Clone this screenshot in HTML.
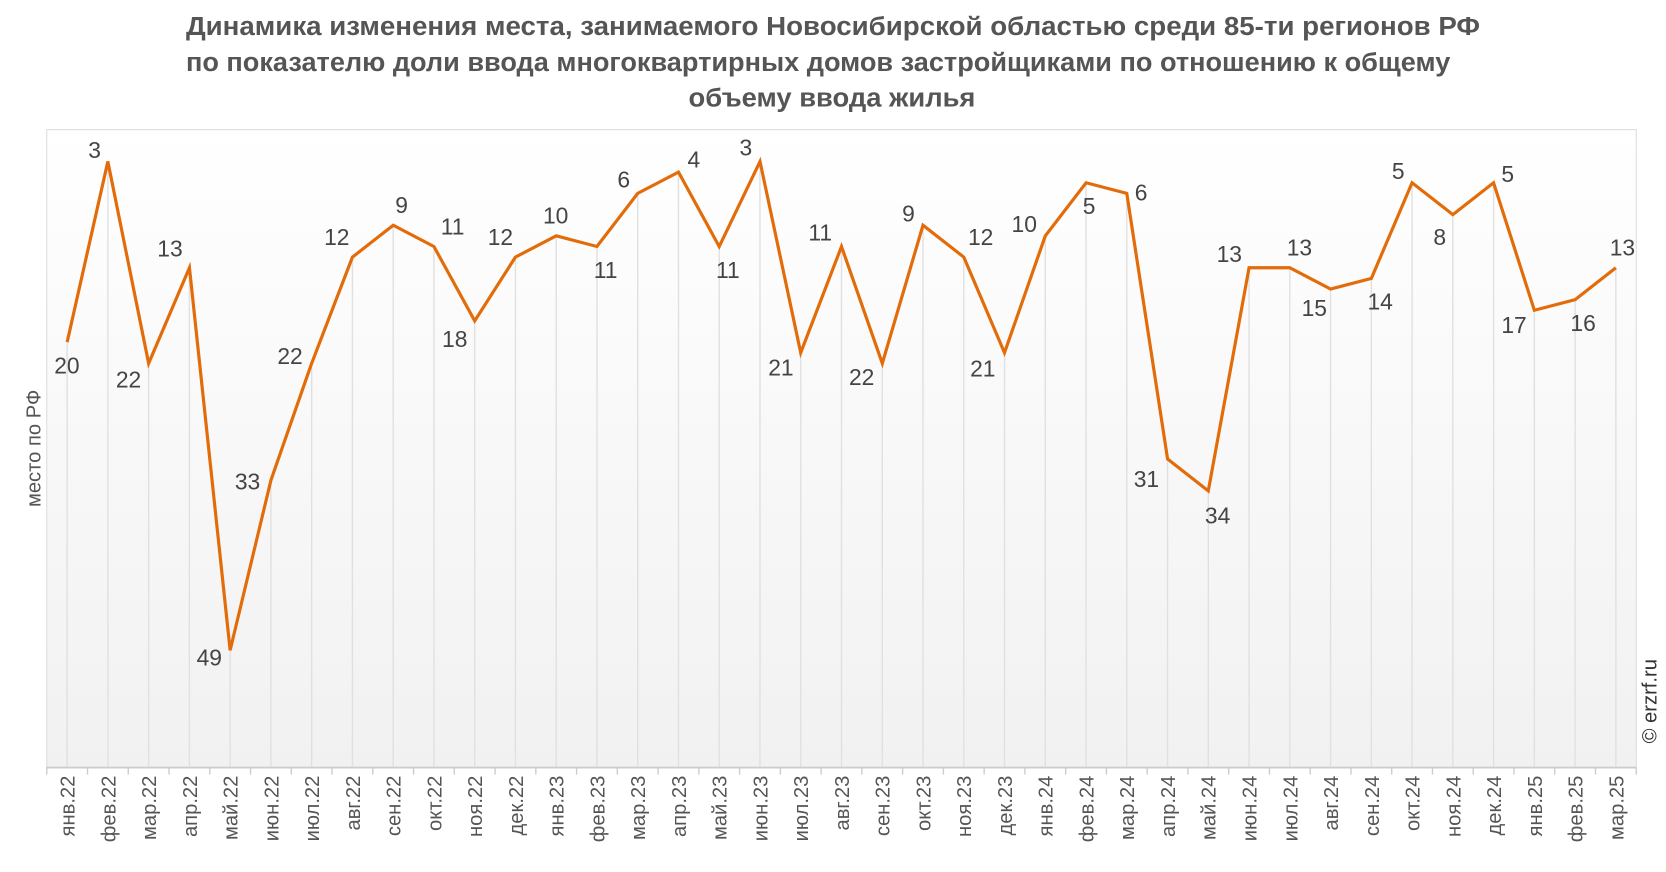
<!DOCTYPE html>
<html><head><meta charset="utf-8"><style>
html,body{margin:0;padding:0;background:#fff;}
svg{display:block;font-family:"Liberation Sans","DejaVu Sans",sans-serif;}
</style></head><body>
<svg width="1666" height="872" viewBox="0 0 1568 820.7" xmlns="http://www.w3.org/2000/svg">
<defs><linearGradient id="g" x1="0" y1="0" x2="0" y2="1"><stop offset="0" stop-color="#ffffff"/><stop offset="1" stop-color="#f1f1f1"/></linearGradient></defs>
<g font-weight="bold" font-size="24" fill="#555" text-anchor="middle">
<text x="784" y="33" textLength="1218" lengthAdjust="spacingAndGlyphs">Динамика изменения места, занимаемого Новосибирской областью среди 85-ти регионов РФ</text>
<text x="770" y="67" textLength="1190" lengthAdjust="spacingAndGlyphs">по показателю доли ввода многоквартирных домов застройщиками по отношению к общему</text>
<text x="783" y="100" textLength="270" lengthAdjust="spacingAndGlyphs">объему ввода жилья</text>
</g>
<rect x="44" y="122" width="1496" height="600" fill="url(#g)" stroke="#ddd" stroke-width="1"/>
<g id="drop" stroke="#e0e0e0" stroke-width="1.3"></g>
<line x1="44" y1="722.5" x2="1540" y2="722.5" stroke="#ccc" stroke-width="1.5"/>
<g id="ticks" stroke="#ccc" stroke-width="1.3"></g>
<polyline id="line" fill="none" stroke="#e36c0a" stroke-width="3" stroke-linejoin="miter"/>
<g id="lbl" font-size="21.5" fill="#444" text-anchor="middle"></g>
<g id="xl" font-size="19" fill="#555" text-anchor="end"></g>
<text transform="translate(38,422) rotate(-90)" font-size="19" fill="#555" text-anchor="middle">место по РФ</text>
<text transform="translate(1559,660) rotate(-90)" font-size="19" fill="#333" text-anchor="middle">© erzrf.ru</text>
</svg>
<script>
var v=[20,3,22,13,49,33,22,12,9,11,18,12,10,11,6,4,11,3,21,11,22,9,12,21,10,5,6,31,34,13,13,15,14,5,8,5,17,16,13];
var L=[[63,344],[89,141],[121,357],[160,234],[197,619],[233,453],[273,335],[317,223],[378,193],[426,213],[428,319],[471,223],[523,203],[570,254],[587,169],[653,150],[685,254],[702,139],[735,346],[772,219],[811,355],[855,201],[923,223],[925,347],[964,211],[1025,194],[1074,181],[1079,451],[1146,485],[1157,239],[1223,233],[1237,290],[1299,284],[1316,161],[1355,223],[1419,164],[1425,306],[1490,304],[1527,233]];
var m=["янв.","фев.","мар.","апр.","май.","июн.","июл.","авг.","сен.","окт.","ноя.","дек."];
var NS="http://www.w3.org/2000/svg",w=1496/39,pts=[];
function el(t,a,p,txt){var e=document.createElementNS(NS,t);for(var k in a)e.setAttribute(k,a[k]);if(txt)e.textContent=txt;document.getElementById(p).appendChild(e);}
for(var i=0;i<39;i++){var x=44+w/2+i*w,y=122+v[i]*10;pts.push(x.toFixed(1)+","+y);
el("line",{x1:x,y1:y,x2:x,y2:722},"drop");
el("text",{x:L[i][0],y:L[i][1]+7.5},"lbl",String(v[i]));
var yr=22+Math.floor(i/12);
el("text",{transform:"translate("+(x+7)+",730) rotate(-90)"},"xl",m[i%12]+yr);}
for(var i=0;i<=39;i++){var x=44+i*w;el("line",{x1:x,y1:722,x2:x,y2:729},"ticks");}
document.getElementById("line").setAttribute("points",pts.join(" "));
</script>
</body></html>
